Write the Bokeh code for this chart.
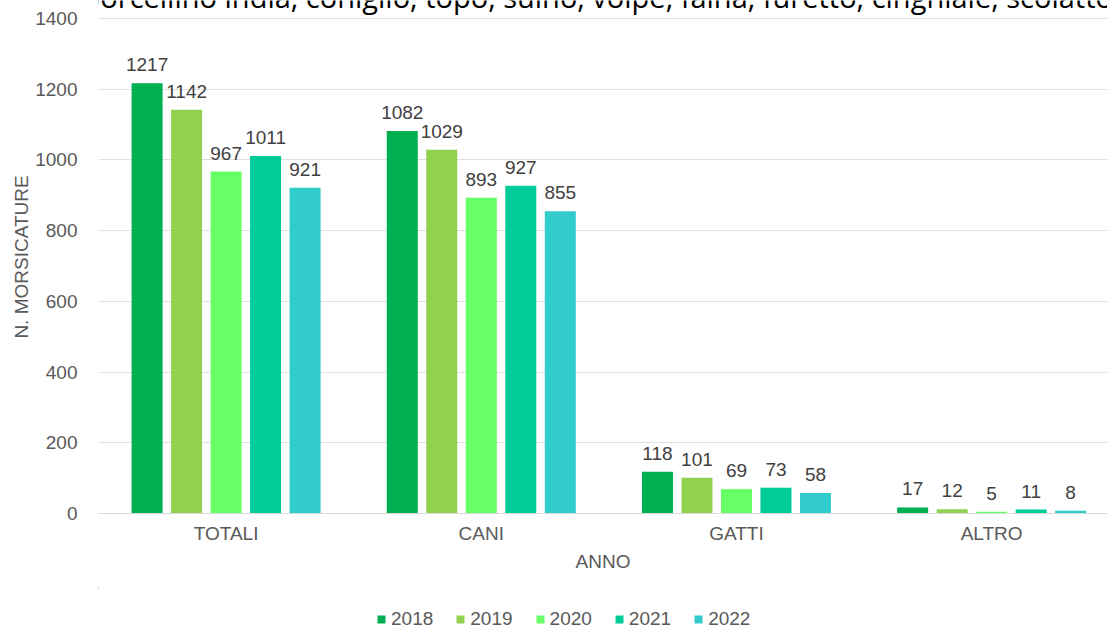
from bokeh.plotting import figure
from bokeh.layouts import column
from bokeh.models import (ColumnDataSource, Range1d, FixedTicker, Legend, LegendItem, Label)
from bokeh.transform import dodge
from bokeh.core.properties import value
from bokeh.embed import file_html
from bokeh.resources import INLINE

categories = ["TOTALI", "CANI", "GATTI", "ALTRO"]
years = ["2018", "2019", "2020", "2021", "2022"]
v2018 = [1217, 1082, 118, 17]
v2019 = [1142, 1029, 101, 12]
v2020 = [967, 893, 69, 5]
v2021 = [1011, 927, 73, 11]
v2022 = [921, 855, 58, 8]
series = [v2018, v2019, v2020, v2021, v2022]
colors = ["#00B050", "#92D050", "#66FF66", "#00CC99", "#33CCCC"]
top_text = "pony), porcellino india, coniglio, topo, suino, volpe, faina, furetto, cinghiale, scoiattolo"
y_ticks = [0, 200, 400, 600, 800, 1000, 1200, 1400]

FONT = "Liberation Sans"
GRAY = "#595959"
FS = "19px"

pos = [i + 0.5 for i in range(len(categories))]
data = {"x": pos}
for y, s in zip(years, series):
    data["v" + y] = s
    data["t" + y] = [str(v) for v in s]
src = ColumnDataSource(data)

# ---- main chart ----
p = figure(width=1107, height=588, output_backend="svg", toolbar_location=None,
           x_range=Range1d(0, 3.954), y_range=Range1d(0, 1450.9),
           min_border_left=98, min_border_bottom=75, min_border_top=0,
           min_border_right=0)
p.outline_line_color = None
p.background_fill_color = "white"

pitch = 0.1548
width = 0.1215
for k, (y, c) in enumerate(zip(years, colors)):
    off = (k - 2) * pitch
    p.vbar(x=dodge("x", off, range=p.x_range), top="v" + y, width=width,
           source=src, fill_color=c, line_color=None)
    p.text(x=dodge("x", off, range=p.x_range), y="v" + y, text="t" + y, source=src,
           text_align="center", text_baseline="bottom", y_offset=-12,
           text_font=value(FONT), text_font_size=FS, text_color="#404040")

p.xaxis.ticker = FixedTicker(ticks=pos)
p.xaxis.major_label_overrides = {x: c for x, c in zip(pos, categories)}
p.xaxis.axis_label = "ANNO"
p.yaxis.axis_label = "N. MORSICATURE"
p.yaxis.ticker = FixedTicker(ticks=y_ticks)
for ax in (p.xaxis[0], p.yaxis[0]):
    ax.major_tick_line_color = None
    ax.minor_tick_line_color = None
    ax.major_label_text_font = FONT
    ax.major_label_text_font_size = FS
    ax.major_label_text_color = GRAY
    ax.axis_label_text_font = FONT
    ax.axis_label_text_font_size = FS
    ax.axis_label_text_color = GRAY
    ax.axis_label_text_font_style = "normal"
p.yaxis.axis_line_color = None
p.xaxis.axis_line_color = "#D9D9D9"
p.yaxis.major_label_standoff = 15
p.yaxis.axis_label_standoff = 0
p.xaxis.major_label_standoff = 3
p.xaxis.axis_label_standoff = 4
p.xgrid.grid_line_color = None
p.ygrid.grid_line_color = "#E0E0E0"
p.ygrid.ticker = p.yaxis.ticker

# clipped line of text at the top of the page (continuation of a caption)
p.add_layout(Label(x=-107 / 255.17, y=1461.9, text=top_text, text_font="Open Sans",
                   text_font_size="29px", text_color="#000000",
                   text_baseline="alphabetic"))

# ---- legend strip ----
lg = figure(width=1107, height=42, output_backend="svg", toolbar_location=None,
            x_axis_type=None, y_axis_type=None,
            x_range=Range1d(100, 101), y_range=Range1d(-10, -9),
            min_border=0)
lg.outline_line_color = None
items = []
for k, (y, c) in enumerate(zip(years, colors)):
    r = lg.vbar(x="x", top="v" + y, width=width, source=src,
                fill_color=c, line_color=None)
    items.append(LegendItem(label=y, renderers=[r]))
legend = Legend(items=items, orientation="horizontal", location=(278, 0),
                glyph_width=10, glyph_height=10, label_standoff=5, spacing=22,
                padding=0, margin=0, border_line_color=None,
                background_fill_alpha=0,
                label_text_font=FONT, label_text_font_size=FS,
                label_text_color=GRAY)
lg.add_layout(legend, "center")

layout = column(p, lg, spacing=0)
open("out.html", "w").write(file_html(layout, INLINE))
